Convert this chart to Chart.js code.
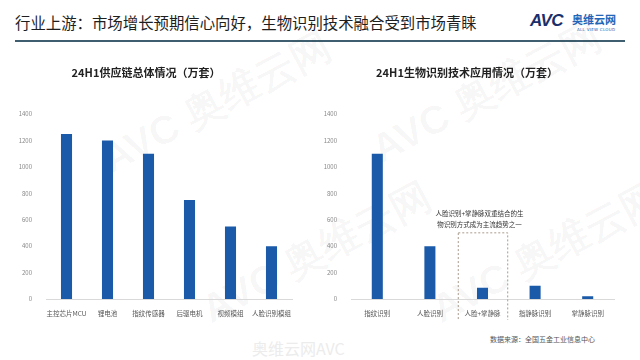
<!DOCTYPE html>
<html>
<head>
<meta charset="utf-8">
<script src="https://cdn.jsdelivr.net/npm/chart.js@4"></script>
<style>
  body { margin: 0; background: #fff; font-family: "Noto Sans CJK SC", "Noto Sans", sans-serif; }
  #page { position: relative; width: 640px; height: 360px; overflow: hidden; background: #fff; }
  .head { position: absolute; left: 15px; top: 11px; font-size: 15.4px; color: #1e1e1e; white-space: nowrap; }
  .rule { position: absolute; left: 15px; top: 40px; width: 610px; height: 2px; background: #3f5f70; }
  .logo { position: absolute; left: 530px; top: 11px; }
  .logo .avc { position: absolute; left: 0; top: 0; font: bold italic 17px "Liberation Sans", Arial, sans-serif; color: #1b2f6b; letter-spacing: -0.5px; }
  .logo .cn { position: absolute; left: 42px; top: 0; font-size: 11px; font-weight: bold; color: #2266b8; white-space: nowrap; }
  .logo .en { position: absolute; left: 47px; top: 16px; font: 4px "DejaVu Sans", sans-serif; color: #2266b8; white-space: nowrap; letter-spacing: 0.3px; }
  .wm { position: absolute; color: rgba(0,0,0,0.035); font: bold 40px "Liberation Sans", sans-serif; transform: rotate(-28deg); white-space: nowrap; }
  .src { position: absolute; left: 490px; top: 334px; font-size: 7px; color: #555; }
  .weibo { position: absolute; left: 252px; top: 336px; font-size: 16px; color: #ececec; }
  canvas { position: absolute; }
</style>
</head>
<body>
<div id="page">
  <div class="head">行业上游：市场增长预期信心向好，生物识别技术融合受到市场青睐</div>
  <div class="rule"></div>
  <div class="logo"><span class="avc">AVC</span><span class="cn">奥维云网</span><span class="en">ALL VIEW CLOUD</span></div>
  <div class="wm" style="left:90px; top:75px;">AVC 奥维云网</div>
  <div class="wm" style="left:360px; top:65px;">AVC 奥维云网</div>
  <div class="wm" style="left:190px; top:225px;">AVC 奥维云网</div>
  <div class="wm" style="left:420px; top:225px;">AVC 奥维云网</div>
  <div style="position:absolute;left:0;top:50px;width:310px;height:270px;"><canvas id="left"></canvas></div>
  <div style="position:absolute;left:320px;top:50px;width:320px;height:270px;"><canvas id="right"></canvas></div>
  <div class="src">数据来源：全国五金工业信息中心</div>
  <div class="weibo">奥维云网AVC</div>
</div>
<script>
const supplyLabels = ['主控芯片MCU', '锂电池', '指纹传感器', '后驱电机', '视频模组', '人脸识别模组'];
const supplyValues = [1250, 1200, 1100, 750, 550, 400];

const bioLabels = ['指纹识别', '人脸识别', '人脸+掌静脉', '指静脉识别', '掌静脉识别'];
const bioValues = [1100, 400, 85, 100, 20];

const noteLines = ['人脸识别+掌静脉双重结合的生', '物识别方式成为主流趋势之一'];
const noteIndex = 2;

const barColor = '#1a5aa8';
const cnFont = '"Noto Sans CJK SC", "Noto Sans", sans-serif';

function makeOptions(title, yWidth, padRight, barPct) {
    return {
        responsive: false,
        animation: false,
        layout: { padding: { left: 0, right: padRight, top: 0, bottom: 0 } },
        datasets: { bar: { barPercentage: barPct, categoryPercentage: 1 } },
        plugins: {
            legend: { display: false },
            tooltip: { enabled: false },
            title: {
                display: true,
                text: title,
                color: '#222',
                font: { family: cnFont, size: 11, weight: 'bold' },
                padding: { top: 16, bottom: 35 }
            }
        },
        scales: {
            x: {
                grid: { display: false },
                border: { color: '#d9d9d9' },
                ticks: { color: '#555', font: { family: cnFont, size: 6.5 }, padding: 3, maxRotation: 0, autoSkip: false },
                afterFit: (s) => { s.height = 21; }
            },
            y: {
                min: 0,
                max: 1400,
                grid: { display: false },
                border: { display: false },
                ticks: { stepSize: 200, color: '#888', font: { family: cnFont, size: 6 }, padding: 6, callback: (v) => String(v) },
                afterFit: (s) => { s.width = yWidth; }
            }
        }
    };
}

function makeChart(id, w, h, labels, values, opts, plugins) {
    const c = document.getElementById(id);
    c.width = w;
    c.height = h;
    return new Chart(c, {
        type: 'bar',
        data: { labels: labels, datasets: [{ data: values, backgroundColor: barColor, borderWidth: 0 }] },
        options: opts,
        plugins: plugins || []
    });
}

// dashed box + note around the combined-method bar
const notePlugin = {
    id: 'note',
    afterDraw(chart) {
        const ctx = chart.ctx;
        const x = chart.scales.x;
        const y = chart.scales.y;
        const step = x.getPixelForValue(1) - x.getPixelForValue(0);
        const cx = x.getPixelForValue(noteIndex);
        const left = cx - step * 0.47;
        const right = cx + step * 0.47;
        const top = y.getPixelForValue(505);
        const bottom = chart.chartArea.bottom + 21;
        ctx.save();
        ctx.strokeStyle = '#a89a8c';
        ctx.lineWidth = 1;
        ctx.setLineDash([2, 2]);
        ctx.strokeRect(left + 0.5, top + 0.5, right - left, bottom - top);
        ctx.setLineDash([]);
        ctx.fillStyle = '#333';
        ctx.font = '6.5px ' + cnFont;
        ctx.textAlign = 'center';
        ctx.textBaseline = 'middle';
        ctx.fillText(noteLines[0], cx - 3, top - 19);
        ctx.fillText(noteLines[1], cx - 3, top - 8);
        ctx.restore();
    }
};

makeChart('left', 310, 270, supplyLabels, supplyValues,
    makeOptions('24H1供应链总体情况（万套）', 46, 18, 0.27));
makeChart('right', 320, 270, bioLabels, bioValues,
    makeOptions('24H1生物识别技术应用情况（万套）', 31, 26, 0.21), [notePlugin]);
</script>
</body>
</html>
